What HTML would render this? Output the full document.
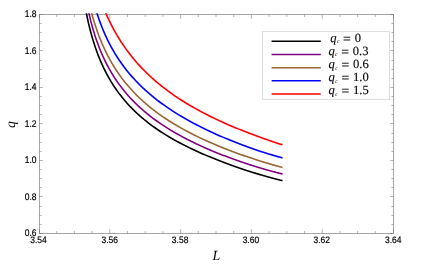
<!DOCTYPE html>
<html><head><meta charset="utf-8"><title>plot</title>
<style>
html,body{margin:0;padding:0;background:#fff;}
body{width:432px;height:270px;overflow:hidden;}
svg{display:block;will-change:transform;}
text{text-rendering:geometricPrecision;}
.t{font-family:"Liberation Sans",sans-serif;font-size:8.5px;fill:#000;stroke:#000;stroke-width:0.17px;}
.l{font-family:"Liberation Serif",serif;font-size:12.6px;fill:#000;stroke:#000;stroke-width:0.12px;}
.a{font-family:"Liberation Serif",serif;font-size:14px;font-style:italic;fill:#000;}
</style></head><body>
<svg width="432" height="270" viewBox="0 0 432 270">
<rect width="432" height="270" fill="#fff"/>
<rect x="39.5" y="14.5" width="354.00" height="219.00" fill="none" stroke="#666" stroke-width="0.58"/>
<path d="M39.50 233.5v-4.3M39.50 14.5v4.3M56.70 233.5v-2.5M56.70 14.5v2.5M74.40 233.5v-2.5M74.40 14.5v2.5M92.10 233.5v-2.5M92.10 14.5v2.5M109.80 233.5v-4.3M109.80 14.5v4.3M127.50 233.5v-2.5M127.50 14.5v2.5M145.20 233.5v-2.5M145.20 14.5v2.5M162.90 233.5v-2.5M162.90 14.5v2.5M180.60 233.5v-4.3M180.60 14.5v4.3M198.30 233.5v-2.5M198.30 14.5v2.5M216.00 233.5v-2.5M216.00 14.5v2.5M233.70 233.5v-2.5M233.70 14.5v2.5M251.40 233.5v-4.3M251.40 14.5v4.3M269.10 233.5v-2.5M269.10 14.5v2.5M286.80 233.5v-2.5M286.80 14.5v2.5M304.50 233.5v-2.5M304.50 14.5v2.5M322.20 233.5v-4.3M322.20 14.5v4.3M339.90 233.5v-2.5M339.90 14.5v2.5M357.60 233.5v-2.5M357.60 14.5v2.5M375.30 233.5v-2.5M375.30 14.5v2.5M393.50 233.5v-4.3M393.50 14.5v4.3M39.5 233.50h3.4M393.5 233.50h-3.4M39.5 224.50h2.1M393.5 224.50h-2.1M39.5 215.50h2.1M393.5 215.50h-2.1M39.5 206.50h2.1M393.5 206.50h-2.1M39.5 196.50h3.4M393.5 196.50h-3.4M39.5 187.50h2.1M393.5 187.50h-2.1M39.5 178.50h2.1M393.5 178.50h-2.1M39.5 169.50h2.1M393.5 169.50h-2.1M39.5 160.50h3.4M393.5 160.50h-3.4M39.5 151.50h2.1M393.5 151.50h-2.1M39.5 142.50h2.1M393.5 142.50h-2.1M39.5 133.50h2.1M393.5 133.50h-2.1M39.5 123.50h3.4M393.5 123.50h-3.4M39.5 114.50h2.1M393.5 114.50h-2.1M39.5 105.50h2.1M393.5 105.50h-2.1M39.5 96.50h2.1M393.5 96.50h-2.1M39.5 87.50h3.4M393.5 87.50h-3.4M39.5 78.50h2.1M393.5 78.50h-2.1M39.5 69.50h2.1M393.5 69.50h-2.1M39.5 60.50h2.1M393.5 60.50h-2.1M39.5 50.50h3.4M393.5 50.50h-3.4M39.5 41.50h2.1M393.5 41.50h-2.1M39.5 32.50h2.1M393.5 32.50h-2.1M39.5 23.50h2.1M393.5 23.50h-2.1M39.5 14.50h3.4M393.5 14.50h-3.4" stroke="#666" stroke-width="0.48" fill="none"/>
<text transform="translate(38.50 242.85) scale(1 1.1)" text-anchor="middle" class="t">3.54</text>
<text transform="translate(109.80 242.85) scale(1 1.1)" text-anchor="middle" class="t">3.56</text>
<text transform="translate(180.10 242.85) scale(1 1.1)" text-anchor="middle" class="t">3.58</text>
<text transform="translate(250.90 242.85) scale(1 1.1)" text-anchor="middle" class="t">3.60</text>
<text transform="translate(321.70 242.85) scale(1 1.1)" text-anchor="middle" class="t">3.62</text>
<text transform="translate(393.30 242.85) scale(1 1.1)" text-anchor="middle" class="t">3.64</text>
<text transform="translate(36.6 236.00) scale(1 1.14)" text-anchor="end" class="t">0.6</text>
<text transform="translate(36.6 199.50) scale(1 1.14)" text-anchor="end" class="t">0.8</text>
<text transform="translate(36.6 163.00) scale(1 1.14)" text-anchor="end" class="t">1.0</text>
<text transform="translate(36.6 126.50) scale(1 1.14)" text-anchor="end" class="t">1.2</text>
<text transform="translate(36.6 90.00) scale(1 1.14)" text-anchor="end" class="t">1.4</text>
<text transform="translate(36.6 53.50) scale(1 1.14)" text-anchor="end" class="t">1.6</text>
<text transform="translate(36.6 17.00) scale(1 1.14)" text-anchor="end" class="t">1.8</text>
<clipPath id="c"><rect x="39.5" y="13.3" width="354.00" height="220.20"/></clipPath>
<path d="M86.08 11.76L86.33 13.00L86.57 14.23L86.83 15.46L87.08 16.69L87.34 17.93L87.61 19.16L87.88 20.39L88.16 21.62L88.44 22.86L88.73 24.09L89.02 25.32L89.32 26.56L89.62 27.79L89.94 29.02L90.25 30.25L90.57 31.49L90.90 32.72L91.24 33.95L91.58 35.18L91.93 36.42L92.28 37.65L92.65 38.88L93.02 40.12L93.39 41.35L93.78 42.58L94.17 43.81L94.57 45.05L94.98 46.28L95.40 47.51L95.82 48.75L96.26 49.98L96.70 51.21L97.15 52.44L97.61 53.68L98.08 54.91L98.56 56.14L99.05 57.37L99.55 58.61L100.01 59.72L100.48 60.83L100.95 61.94L101.44 63.05L101.93 64.15L102.43 65.26L102.95 66.37L103.47 67.48L104.00 68.59L104.54 69.70L105.10 70.81L105.66 71.92L106.24 73.03L106.82 74.14L107.42 75.25L108.03 76.36L108.65 77.47L109.28 78.58L109.92 79.69L110.58 80.80L111.25 81.91L111.94 83.02L112.63 84.13L113.34 85.23L114.07 86.34L114.81 87.45L115.56 88.56L116.33 89.67L117.03 90.66L117.74 91.65L118.46 92.63L119.19 93.62L119.94 94.60L120.70 95.59L121.48 96.58L122.27 97.56L123.07 98.55L123.89 99.53L124.72 100.52L125.57 101.51L126.44 102.49L127.32 103.48L128.21 104.47L129.13 105.45L130.05 106.44L131.00 107.42L131.84 108.29L132.70 109.15L133.57 110.01L134.45 110.88L135.35 111.74L136.27 112.60L137.19 113.46L138.14 114.33L139.10 115.19L140.07 116.05L141.06 116.92L142.07 117.78L143.09 118.64L144.13 119.51L145.19 120.37L146.26 121.23L147.35 122.09L148.30 122.83L149.27 123.57L150.24 124.31L151.23 125.05L152.24 125.79L153.26 126.53L154.29 127.27L155.34 128.01L156.40 128.75L157.48 129.49L158.57 130.23L159.68 130.97L160.80 131.71L161.94 132.45L163.10 133.19L164.27 133.93L165.46 134.67L166.67 135.41L167.89 136.15L168.92 136.76L169.96 137.38L171.02 138.00L172.08 138.61L173.16 139.23L174.26 139.85L175.36 140.46L176.48 141.08L177.61 141.69L178.75 142.31L179.91 142.93L181.08 143.54L182.26 144.16L183.46 144.78L184.67 145.39L185.89 146.01L187.13 146.63L188.38 147.24L189.64 147.86L190.92 148.48L192.21 149.09L193.52 149.71L194.84 150.32L196.18 150.94L197.53 151.56L198.89 152.17L200.00 152.67L201.11 153.16L202.23 153.65L203.36 154.15L204.50 154.64L205.65 155.13L206.81 155.63L207.98 156.12L209.17 156.61L210.36 157.10L211.56 157.60L212.77 158.09L213.99 158.58L215.22 159.08L216.46 159.57L217.71 160.06L218.97 160.56L220.24 161.05L221.53 161.54L222.82 162.04L224.12 162.53L225.44 163.02L226.77 163.51L228.10 164.01L229.45 164.50L230.81 164.99L232.18 165.49L233.57 165.98L234.96 166.47L236.37 166.97L237.79 167.46L239.22 167.95L240.66 168.45L242.12 168.94L243.59 169.43L245.08 169.93L246.58 170.42L248.09 170.91L249.24 171.28L250.40 171.65L251.56 172.02L252.73 172.39L253.92 172.76L255.11 173.13L256.32 173.50L257.53 173.87L258.76 174.24L260.00 174.61L261.25 174.98L262.51 175.35L263.79 175.72L265.08 176.09L266.39 176.46L267.71 176.83L269.04 177.20L270.40 177.57L271.77 177.94L273.17 178.31L274.58 178.68L276.01 179.05L277.47 179.42L278.95 179.79L280.46 180.16L281.99 180.53L282.50 180.65" stroke="#000000" stroke-width="1.6" fill="none" clip-path="url(#c)" stroke-linejoin="round"/>
<path d="M88.56 11.76L88.84 13.00L89.12 14.23L89.41 15.46L89.70 16.69L90.00 17.93L90.30 19.16L90.61 20.39L90.93 21.62L91.25 22.86L91.58 24.09L91.91 25.32L92.26 26.56L92.60 27.79L92.96 29.02L93.32 30.25L93.69 31.49L94.07 32.72L94.45 33.95L94.84 35.18L95.24 36.42L95.65 37.65L96.06 38.88L96.49 40.12L96.92 41.35L97.36 42.58L97.81 43.81L98.27 45.05L98.74 46.28L99.21 47.51L99.70 48.75L100.20 49.98L100.71 51.21L101.17 52.32L101.65 53.43L102.13 54.54L102.62 55.65L103.12 56.76L103.63 57.87L104.15 58.98L104.68 60.09L105.22 61.20L105.77 62.31L106.33 63.41L106.90 64.52L107.48 65.63L108.07 66.74L108.67 67.85L109.29 68.96L109.91 70.07L110.55 71.18L111.20 72.29L111.86 73.40L112.54 74.51L113.22 75.62L113.93 76.73L114.64 77.84L115.37 78.95L116.11 80.06L116.87 81.17L117.55 82.15L118.25 83.14L118.96 84.13L119.68 85.11L120.42 86.10L121.16 87.08L121.92 88.07L122.69 89.06L123.48 90.04L124.28 91.03L125.10 92.01L125.92 93.00L126.77 93.99L127.63 94.97L128.50 95.96L129.39 96.95L130.29 97.93L131.21 98.92L132.15 99.90L133.10 100.89L133.95 101.75L134.81 102.62L135.69 103.48L136.58 104.34L137.48 105.21L138.40 106.07L139.33 106.93L140.27 107.79L141.23 108.66L142.21 109.52L143.20 110.38L144.21 111.25L145.23 112.11L146.27 112.97L147.32 113.83L148.39 114.70L149.48 115.56L150.43 116.30L151.39 117.04L152.36 117.78L153.34 118.52L154.34 119.26L155.36 120.00L156.38 120.74L157.42 121.48L158.47 122.22L159.54 122.96L160.63 123.70L161.72 124.44L162.83 125.18L163.96 125.92L165.10 126.66L166.26 127.39L167.44 128.13L168.62 128.87L169.83 129.61L171.05 130.35L172.08 130.97L173.12 131.59L174.18 132.20L175.24 132.82L176.32 133.44L177.41 134.05L178.51 134.67L179.62 135.28L180.75 135.90L181.88 136.52L183.03 137.13L184.20 137.75L185.37 138.37L186.56 138.98L187.77 139.60L188.98 140.22L190.21 140.83L191.45 141.45L192.71 142.06L193.98 142.68L195.26 143.30L196.56 143.91L197.87 144.53L199.19 145.15L200.53 145.76L201.89 146.38L203.26 147.00L204.36 147.49L205.48 147.98L206.60 148.48L207.74 148.97L208.88 149.46L210.04 149.95L211.20 150.45L212.37 150.94L213.56 151.43L214.75 151.93L215.96 152.42L217.17 152.91L218.40 153.41L219.64 153.90L220.88 154.39L222.14 154.89L223.41 155.38L224.69 155.87L225.98 156.36L227.29 156.86L228.60 157.35L229.93 157.84L231.27 158.34L232.62 158.83L233.98 159.32L235.35 159.82L236.74 160.31L238.15 160.80L239.56 161.30L240.99 161.79L242.43 162.28L243.89 162.78L245.36 163.27L246.85 163.76L248.36 164.25L249.88 164.75L251.03 165.12L252.19 165.49L253.36 165.86L254.54 166.23L255.73 166.60L256.93 166.97L258.15 167.34L259.37 167.71L260.61 168.08L261.86 168.45L263.12 168.82L264.40 169.19L265.69 169.56L266.99 169.93L268.31 170.29L269.65 170.66L271.00 171.03L272.37 171.40L273.75 171.77L275.16 172.14L276.58 172.51L278.03 172.88L279.49 173.25L280.98 173.62L282.49 173.99L282.50 174.00" stroke="#800080" stroke-width="1.6" fill="none" clip-path="url(#c)" stroke-linejoin="round"/>
<path d="M91.30 11.76L91.63 13.00L91.97 14.23L92.31 15.46L92.65 16.69L93.00 17.93L93.36 19.16L93.73 20.39L94.10 21.62L94.48 22.86L94.87 24.09L95.26 25.32L95.67 26.56L96.07 27.79L96.49 29.02L96.92 30.25L97.35 31.49L97.79 32.72L98.24 33.95L98.70 35.18L99.17 36.42L99.64 37.65L100.13 38.88L100.63 40.12L101.13 41.35L101.59 42.46L102.06 43.57L102.54 44.68L103.03 45.79L103.53 46.90L104.03 48.01L104.55 49.11L105.07 50.22L105.60 51.33L106.14 52.44L106.69 53.55L107.26 54.66L107.83 55.77L108.41 56.88L109.00 57.99L109.60 59.10L110.22 60.21L110.84 61.32L111.48 62.43L112.13 63.54L112.78 64.65L113.46 65.76L114.14 66.87L114.84 67.98L115.55 69.09L116.27 70.20L117.00 71.30L117.75 72.41L118.52 73.52L119.21 74.51L119.91 75.50L120.62 76.48L121.35 77.47L122.08 78.45L122.83 79.44L123.59 80.43L124.37 81.41L125.16 82.40L125.96 83.39L126.77 84.37L127.60 85.36L128.44 86.34L129.30 87.33L130.17 88.32L131.05 89.30L131.95 90.29L132.87 91.28L133.80 92.26L134.75 93.25L135.59 94.11L136.44 94.97L137.31 95.84L138.19 96.70L139.09 97.56L139.99 98.43L140.91 99.29L141.85 100.15L142.80 101.01L143.76 101.88L144.74 102.74L145.73 103.60L146.74 104.47L147.76 105.33L148.80 106.19L149.85 107.05L150.92 107.92L152.01 108.78L153.11 109.64L154.07 110.38L155.04 111.12L156.02 111.86L157.02 112.60L158.03 113.34L159.05 114.08L160.09 114.82L161.14 115.56L162.20 116.30L163.28 117.04L164.37 117.78L165.47 118.52L166.59 119.26L167.73 120.00L168.88 120.74L170.04 121.48L171.22 122.22L172.42 122.96L173.63 123.70L174.85 124.44L175.89 125.05L176.93 125.67L177.99 126.29L179.06 126.90L180.14 127.52L181.23 128.13L182.33 128.75L183.45 129.37L184.57 129.98L185.71 130.60L186.87 131.22L188.03 131.83L189.21 132.45L190.39 133.07L191.60 133.68L192.81 134.30L194.04 134.91L195.28 135.53L196.54 136.15L197.80 136.76L199.08 137.38L200.38 138.00L201.69 138.61L203.01 139.23L204.35 139.85L205.70 140.46L207.07 141.08L208.17 141.57L209.28 142.06L210.40 142.56L211.53 143.05L212.67 143.54L213.82 144.04L214.98 144.53L216.15 145.02L217.33 145.52L218.52 146.01L219.72 146.50L220.93 147.00L222.16 147.49L223.39 147.98L224.63 148.48L225.88 148.97L227.14 149.46L228.42 149.95L229.70 150.45L231.00 150.94L232.30 151.43L233.62 151.93L234.95 152.42L236.29 152.91L237.64 153.41L239.01 153.90L240.38 154.39L241.77 154.89L243.18 155.38L244.59 155.87L246.02 156.36L247.46 156.86L248.91 157.35L250.38 157.84L251.86 158.34L253.36 158.83L254.87 159.32L256.01 159.69L257.16 160.06L258.32 160.43L259.49 160.80L260.67 161.17L261.86 161.54L263.06 161.91L264.26 162.28L265.48 162.65L266.71 163.02L267.95 163.39L269.20 163.76L270.46 164.13L271.73 164.50L273.01 164.87L274.31 165.24L275.62 165.61L276.94 165.98L278.28 166.35L279.63 166.72L280.99 167.09L282.37 167.46L282.50 167.49" stroke="#996633" stroke-width="1.6" fill="none" clip-path="url(#c)" stroke-linejoin="round"/>
<path d="M96.57 11.76L96.96 13.00L97.35 14.23L97.75 15.46L98.16 16.69L98.57 17.93L99.00 19.16L99.43 20.39L99.87 21.62L100.32 22.86L100.78 24.09L101.25 25.32L101.73 26.56L102.22 27.79L102.71 29.02L103.22 30.25L103.69 31.36L104.16 32.47L104.64 33.58L105.14 34.69L105.64 35.80L106.15 36.91L106.66 38.02L107.19 39.13L107.73 40.24L108.28 41.35L108.83 42.46L109.40 43.57L109.98 44.68L110.57 45.79L111.16 46.90L111.77 48.01L112.39 49.11L113.03 50.22L113.67 51.33L114.32 52.44L114.99 53.55L115.67 54.66L116.36 55.77L117.07 56.88L117.78 57.99L118.51 59.10L119.26 60.21L120.01 61.32L120.70 62.31L121.39 63.29L122.10 64.28L122.82 65.26L123.55 66.25L124.29 67.24L125.04 68.22L125.81 69.21L126.58 70.20L127.38 71.18L128.18 72.17L129.00 73.15L129.83 74.14L130.67 75.13L131.53 76.11L132.40 77.10L133.28 78.08L134.18 79.07L135.10 80.06L136.02 81.04L136.97 82.03L137.81 82.89L138.66 83.76L139.52 84.62L140.40 85.48L141.28 86.34L142.18 87.21L143.10 88.07L144.02 88.93L144.96 89.80L145.91 90.66L146.88 91.52L147.86 92.38L148.85 93.25L149.86 94.11L150.88 94.97L151.92 95.84L152.97 96.70L154.03 97.56L155.11 98.43L156.21 99.29L157.16 100.03L158.12 100.77L159.10 101.51L160.08 102.25L161.08 102.99L162.09 103.73L163.12 104.47L164.15 105.21L165.20 105.95L166.26 106.68L167.33 107.42L168.42 108.16L169.52 108.90L170.63 109.64L171.75 110.38L172.89 111.12L174.04 111.86L175.21 112.60L176.39 113.34L177.58 114.08L178.79 114.82L180.01 115.56L181.25 116.30L182.29 116.92L183.34 117.53L184.40 118.15L185.48 118.77L186.56 119.38L187.65 120.00L188.76 120.61L189.88 121.23L191.00 121.85L192.14 122.46L193.29 123.08L194.45 123.70L195.62 124.31L196.80 124.93L198.00 125.55L199.20 126.16L200.42 126.78L201.65 127.39L202.89 128.01L204.14 128.63L205.41 129.24L206.69 129.86L207.98 130.48L209.28 131.09L210.60 131.71L211.93 132.33L213.27 132.94L214.63 133.56L215.99 134.18L217.10 134.67L218.21 135.16L219.33 135.65L220.47 136.15L221.61 136.64L222.76 137.13L223.92 137.63L225.08 138.12L226.26 138.61L227.45 139.11L228.65 139.60L229.85 140.09L231.07 140.59L232.30 141.08L233.54 141.57L234.78 142.06L236.04 142.56L237.31 143.05L238.60 143.54L239.89 144.04L241.19 144.53L242.51 145.02L243.84 145.52L245.18 146.01L246.53 146.50L247.90 147.00L249.28 147.49L250.67 147.98L252.08 148.48L253.50 148.97L254.93 149.46L256.39 149.95L257.85 150.45L259.34 150.94L260.84 151.43L262.36 151.93L263.51 152.30L264.67 152.67L265.84 153.04L267.02 153.41L268.21 153.78L269.42 154.15L270.63 154.52L271.86 154.89L273.11 155.26L274.36 155.63L275.63 155.99L276.91 156.36L278.21 156.73L279.53 157.10L280.85 157.47L282.20 157.84L282.50 157.93" stroke="#0000ff" stroke-width="1.6" fill="none" clip-path="url(#c)" stroke-linejoin="round"/>
<path d="M105.22 11.76L105.69 12.87L106.18 13.98L106.67 15.09L107.17 16.20L107.67 17.31L108.19 18.42L108.71 19.53L109.24 20.64L109.77 21.75L110.32 22.86L110.88 23.97L111.44 25.08L112.01 26.19L112.59 27.30L113.18 28.40L113.78 29.51L114.39 30.62L115.01 31.73L115.64 32.84L116.28 33.95L116.92 35.06L117.58 36.17L118.25 37.28L118.93 38.39L119.62 39.50L120.32 40.61L121.03 41.72L121.76 42.83L122.49 43.94L123.24 45.05L124.00 46.16L124.69 47.14L125.38 48.13L126.09 49.11L126.80 50.10L127.53 51.09L128.26 52.07L129.01 53.06L129.77 54.05L130.54 55.03L131.32 56.02L132.11 57.00L132.91 57.99L133.73 58.98L134.56 59.96L135.40 60.95L136.25 61.94L137.11 62.92L137.99 63.91L138.88 64.89L139.78 65.88L140.70 66.87L141.63 67.85L142.58 68.84L143.42 69.70L144.27 70.56L145.13 71.43L146.00 72.29L146.88 73.15L147.78 74.02L148.68 74.88L149.60 75.74L150.53 76.61L151.48 77.47L152.43 78.33L153.40 79.19L154.38 80.06L155.38 80.92L156.39 81.78L157.41 82.65L158.44 83.51L159.49 84.37L160.56 85.23L161.63 86.10L162.73 86.96L163.67 87.70L164.63 88.44L165.60 89.18L166.58 89.92L167.58 90.66L168.58 91.40L169.60 92.14L170.62 92.88L171.66 93.62L172.71 94.36L173.78 95.10L174.86 95.84L175.94 96.58L177.05 97.32L178.16 98.06L179.29 98.80L180.43 99.53L181.58 100.27L182.75 101.01L183.93 101.75L185.12 102.49L186.33 103.23L187.56 103.97L188.59 104.59L189.63 105.21L190.68 105.82L191.74 106.44L192.81 107.05L193.89 107.67L194.98 108.29L196.08 108.90L197.20 109.52L198.32 110.14L199.46 110.75L200.60 111.37L201.76 111.99L202.93 112.60L204.11 113.22L205.30 113.83L206.50 114.45L207.72 115.07L208.94 115.68L210.18 116.30L211.43 116.92L212.69 117.53L213.97 118.15L215.26 118.77L216.56 119.38L217.87 120.00L219.19 120.61L220.53 121.23L221.88 121.85L223.24 122.46L224.34 122.96L225.45 123.45L226.57 123.94L227.70 124.44L228.83 124.93L229.97 125.42L231.13 125.92L232.29 126.41L233.46 126.90L234.63 127.39L235.82 127.89L237.02 128.38L238.22 128.87L239.44 129.37L240.66 129.86L241.90 130.35L243.14 130.85L244.39 131.34L245.65 131.83L246.93 132.33L248.21 132.82L249.50 133.31L250.80 133.81L252.11 134.30L253.43 134.79L254.76 135.28L256.10 135.78L257.45 136.27L258.81 136.76L260.18 137.26L261.56 137.75L262.95 138.24L264.35 138.74L265.77 139.23L267.19 139.72L268.62 140.22L270.07 140.71L271.52 141.20L272.99 141.69L274.47 142.19L275.96 142.68L277.46 143.17L278.97 143.67L280.49 144.16L281.64 144.53L282.50 144.80" stroke="#ff0000" stroke-width="1.6" fill="none" clip-path="url(#c)" stroke-linejoin="round"/>
<rect x="262.5" y="31.5" width="127" height="67.9" fill="#fff" stroke="#dedede" stroke-width="1"/>
<path d="M271.6 41.3H320.8" stroke="#000000" stroke-width="1.55"/>
<text y="41.8" class="l"><tspan x="330.3" font-style="italic">q</tspan><tspan x="337.0" dy="1.4" font-style="italic" font-size="5.6" stroke-width="0">c</tspan><tspan x="343.1" dy="-0.6" font-size="13.8">=</tspan><tspan x="354.7" dy="-0.8">0</tspan></text>
<path d="M271.6 54.5H320.8" stroke="#800080" stroke-width="1.55"/>
<text y="54.9" class="l"><tspan x="328.4" font-style="italic">q</tspan><tspan x="335.1" dy="1.4" font-style="italic" font-size="5.6" stroke-width="0">c</tspan><tspan x="341.2" dy="-0.6" font-size="13.8">=</tspan><tspan x="352.8" dy="-0.8">0.3</tspan></text>
<path d="M271.6 67.65H320.8" stroke="#996633" stroke-width="1.55"/>
<text y="68.1" class="l"><tspan x="328.6" font-style="italic">q</tspan><tspan x="335.3" dy="1.4" font-style="italic" font-size="5.6" stroke-width="0">c</tspan><tspan x="341.4" dy="-0.6" font-size="13.8">=</tspan><tspan x="353.0" dy="-0.8">0.6</tspan></text>
<path d="M271.6 80.8H320.8" stroke="#0000ff" stroke-width="1.55"/>
<text y="81.3" class="l"><tspan x="328.6" font-style="italic">q</tspan><tspan x="335.3" dy="1.4" font-style="italic" font-size="5.6" stroke-width="0">c</tspan><tspan x="341.4" dy="-0.6" font-size="13.8">=</tspan><tspan x="353.0" dy="-0.8">1.0</tspan></text>
<path d="M271.6 94.0H320.8" stroke="#ff0000" stroke-width="1.55"/>
<text y="94.4" class="l"><tspan x="328.6" font-style="italic">q</tspan><tspan x="335.3" dy="1.4" font-style="italic" font-size="5.6" stroke-width="0">c</tspan><tspan x="341.4" dy="-0.6" font-size="13.8">=</tspan><tspan x="353.0" dy="-0.8">1.5</tspan></text>
<text x="216.3" y="260.2" text-anchor="middle" class="a">L</text>
<text transform="translate(15.4,124.5) rotate(-90)" text-anchor="middle" class="a" style="font-size:13.5px">q</text>
</svg>
</body></html>
